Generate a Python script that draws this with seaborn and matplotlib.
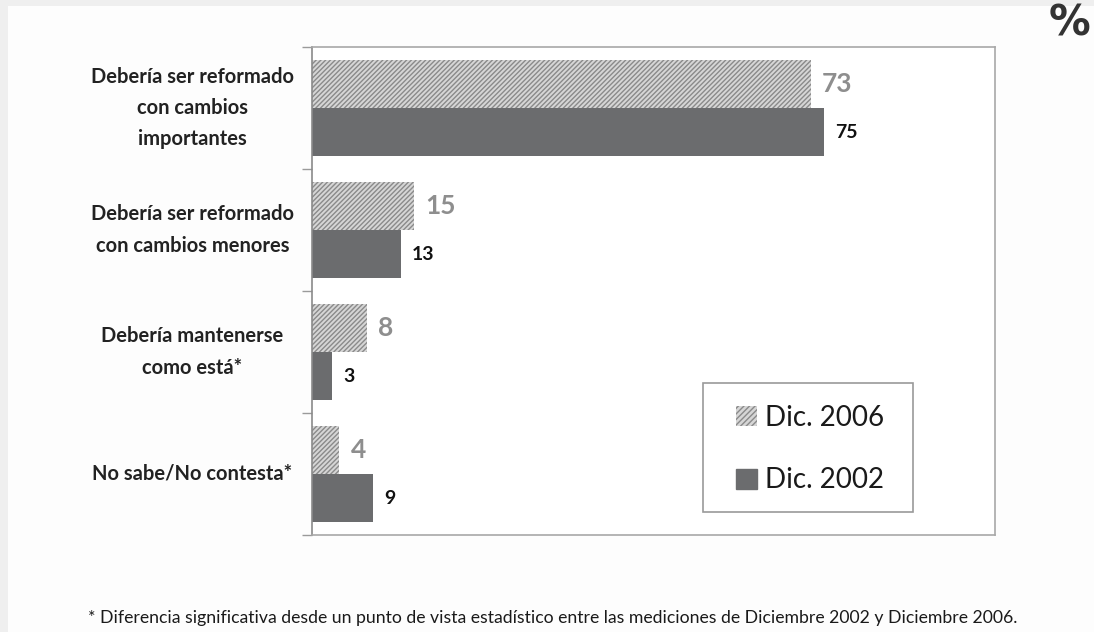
import pandas as pd
import matplotlib
matplotlib.use("Agg")
import matplotlib.pyplot as plt
import matplotlib.transforms as mtransforms
from matplotlib.patches import Patch, Rectangle
import seaborn as sns


categories = [
    "Debería ser reformado\ncon cambios\nimportantes",
    "Debería ser reformado\ncon cambios menores",
    "Debería mantenerse\ncomo está*",
    "No sabe/No contesta*",
]
series = ["Dic. 2006", "Dic. 2002"]
values_2006 = [73, 15, 8, 4]
values_2002 = [75, 13, 3, 9]
footnote = ("* Diferencia significativa desde un punto de vista estadístico entre las "
            "mediciones de Diciembre 2002 y Diciembre 2006.")

df = pd.DataFrame({
    "categoria": categories * 2,
    "valor": values_2006 + values_2002,
    "serie": [series[0]] * len(categories) + [series[1]] * len(categories),
})

sns.set_theme(style="white")
plt.rcParams["font.family"] = ["Lato", "DejaVu Sans"]
plt.rcParams["hatch.linewidth"] = 1.0

hatch_face = "#d6d6d6"
hatch_line = "#8a8a8a"
solid = "#6b6c6e"

fig = plt.figure(figsize=(10.94, 6.32), dpi=100)
fig.patch.set_facecolor("#fdfdfd")
ax = fig.add_axes([312 / 1094, 1 - 535 / 632, 683 / 1094, 488 / 632])

sns.barplot(data=df, y="categoria", x="valor", hue="serie", orient="h",
            palette=[hatch_face, solid], width=0.79, ax=ax, legend=False,
            saturation=1)

for bar in ax.containers[0]:
    bar.set_hatch("///////")
    bar.set_edgecolor(hatch_line)
    bar.set_linewidth(0)
for bar in ax.containers[1]:
    bar.set_linewidth(0)

ax.bar_label(ax.containers[0], padding=8, fontsize=19, fontweight="bold", color="#8e8e8e")
ax.bar_label(ax.containers[1], padding=8, fontsize=14, fontweight="bold", color="#111111")

ax.set_xlim(0, 100)
ax.set_ylim(len(categories) - 0.5, -0.5)
ax.set_xlabel("")
ax.set_ylabel("")
ax.set_xticks([])
ax.set_yticks([])
ax.set_yticks([i - 0.5 for i in range(len(categories) + 1)], minor=True)
ax.tick_params(axis="y", which="minor", left=True, length=7, width=1, color="#9a9a9a")
ax.set_facecolor("white")

for side in ["top", "right", "bottom"]:
    ax.spines[side].set_color("#a8a8a8")
    ax.spines[side].set_linewidth(1.2)
ax.spines["left"].set_color("#8a8a8a")
ax.spines["left"].set_linewidth(1.2)

# category labels, centered to the left of the axis
trans = mtransforms.blended_transform_factory(ax.transAxes, ax.transData)
for i, label in enumerate(categories):
    ax.text(-0.175, i, label, transform=trans, ha="center", va="center",
            fontsize=14.5, fontweight="bold", color="#222222", linespacing=1.7)

# legend: frame drawn separately so its size matches the original box
fig.add_artist(Rectangle((703 / 1094, 1 - 512 / 632), 210 / 1094, 129 / 632,
                         transform=fig.transFigure, facecolor="white",
                         edgecolor="#9a9a9a", linewidth=1.2, zorder=5))
handles = [
    Patch(facecolor=hatch_face, edgecolor=hatch_line, hatch="//////", linewidth=0, label=series[0]),
    Patch(facecolor=solid, edgecolor=solid, label=series[1]),
]
leg = fig.legend(handles=handles, loc="center",
                 bbox_to_anchor=(810 / 1094, 1 - 449 / 632),
                 borderaxespad=0, fontsize=20, frameon=False,
                 handlelength=0.75, handleheight=0.75, handletextpad=0.3,
                 labelspacing=1.33, borderpad=0)
leg.set_zorder(6)
for t in leg.get_texts():
    t.set_color("#1a1a1a")

fig.text(1090 / 1094, 1 - 24 / 632, "%", ha="right", va="center", fontsize=30,
         fontweight="bold", color="#333333", family="DejaVu Sans")
fig.text(88 / 1094, 1 - 618 / 632, footnote, ha="left", va="center", fontsize=12.7,
         color="#1a1a1a")

# faint slide border
fig.add_artist(Rectangle((0, 0), 8 / 1094, 1, transform=fig.transFigure,
                         facecolor="#efefef", edgecolor="none"))
fig.add_artist(Rectangle((0, 1 - 6 / 632), 1, 6 / 632, transform=fig.transFigure,
                         facecolor="#efefef", edgecolor="none"))

fig.savefig("out.png", dpi=100)
